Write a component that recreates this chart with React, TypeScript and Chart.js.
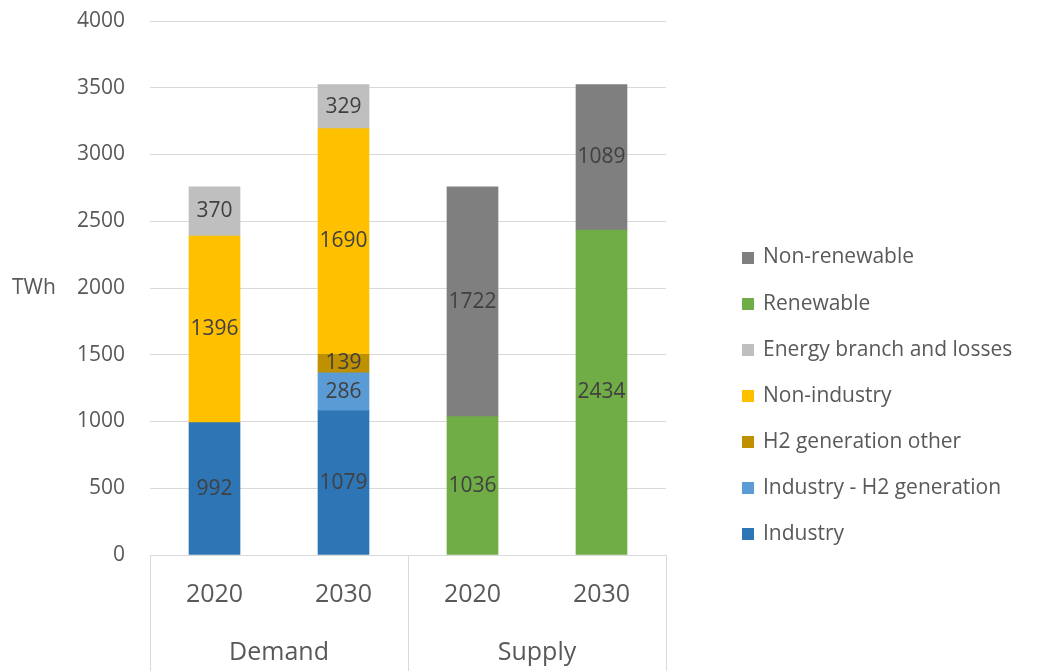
import React, { useEffect, useRef } from "react";
import { Chart, registerables } from "chart.js";

Chart.register(...registerables);

const categories = ["2020", "2030", "2020", "2030"];
const groups = ["Demand", "Supply"];
const yTicks = [0, 500, 1000, 1500, 2000, 2500, 3000, 3500, 4000];
const yTitle = "TWh";

const industry = [992, 1079, null, null];
const industryH2 = [null, 286, null, null];
const h2Other = [null, 139, null, null];
const nonIndustry = [1396, 1690, null, null];
const energyBranch = [370, 329, null, null];
const renewable = [null, null, 1036, 2434];
const nonRenewable = [null, null, 1722, 1089];

const seriesNames = [
  "Industry",
  "Industry - H2 generation",
  "H2 generation other",
  "Non-industry",
  "Energy branch and losses",
  "Renewable",
  "Non-renewable",
];
const seriesColors = ["#2e75b6", "#5b9bd5", "#bf9000", "#ffc000", "#bfbfbf", "#70ad47", "#7f7f7f"];
const seriesValues = [industry, industryH2, h2Other, nonIndustry, energyBranch, renewable, nonRenewable];

const FONT = "'Open Sans', 'Noto Sans', sans-serif";

const valueLabels = {
  id: "valueLabels",
  afterDatasetsDraw(chart: any) {
    const ctx = chart.ctx;
    ctx.save();
    ctx.font = `21px ${FONT}`;
    ctx.fillStyle = "#404040";
    ctx.textAlign = "center";
    ctx.textBaseline = "middle";
    chart.data.datasets.forEach((ds: any, i: number) => {
      const meta = chart.getDatasetMeta(i);
      meta.data.forEach((el: any, j: number) => {
        const v = ds.data[j];
        if (v == null) return;
        const y = (el.y + el.base) / 2;
        ctx.fillText(String(v), el.x, y);
      });
    });
    ctx.restore();
  },
};

const decorations = {
  id: "decorations",
  afterDraw(chart: any) {
    const ctx = chart.ctx;
    const xs = chart.scales.x;
    const area = chart.chartArea;
    const H = chart.height;
    ctx.save();
    ctx.strokeStyle = "#d9d9d9";
    ctx.lineWidth = 1;
    const p0 = xs.getPixelForValue(0);
    const p1 = xs.getPixelForValue(1);
    const p2 = xs.getPixelForValue(2);
    const p3 = xs.getPixelForValue(3);
    const seps = [area.left, (p1 + p2) / 2, area.right];
    seps.forEach((x) => {
      const xx = Math.round(x) + 0.5;
      ctx.beginPath();
      ctx.moveTo(xx, area.bottom);
      ctx.lineTo(xx, H);
      ctx.stroke();
    });
    ctx.font = `25px ${FONT}`;
    ctx.fillStyle = "#595959";
    ctx.textAlign = "center";
    ctx.textBaseline = "middle";
    ctx.fillText(groups[0], (p0 + p1) / 2, 653);
    ctx.fillText(groups[1], (p2 + p3) / 2, 653);
    ctx.font = `21px ${FONT}`;
    ctx.textAlign = "left";
    ctx.fillText(yTitle, 12, 288);
    const n = chart.data.datasets.length;
    for (let k = 0; k < n; k++) {
      const i = n - 1 - k;
      const ds = chart.data.datasets[i];
      const cy = 257.5 + k * 46.1;
      ctx.fillStyle = ds.backgroundColor;
      ctx.fillRect(742, Math.round(cy - 6), 12, 12);
      ctx.fillStyle = "#595959";
      ctx.fillText(ds.label, 763, cy);
    }
    ctx.restore();
  },
};

export default function App() {
  const ref = useRef<HTMLCanvasElement>(null);
  useEffect(() => {
    if (!ref.current) return;
    const chart = new Chart(ref.current, {
      type: "bar",
      data: {
        labels: categories,
        datasets: seriesNames.map((name, i) => ({
          label: name,
          data: seriesValues[i] as any,
          backgroundColor: seriesColors[i],
          borderWidth: 0,
          barThickness: 51,
          stack: "s",
        })),
      },
      options: {
        responsive: false,
        maintainAspectRatio: false,
        animation: false,
        layout: { padding: { left: 0, top: 21, right: 377, bottom: 0 } },
        plugins: {
          legend: { display: false },
          title: { display: false },
          tooltip: { enabled: false },
        },
        scales: {
          x: {
            stacked: true,
            afterFit: (s: any) => {
              s.height = 116;
              s.paddingLeft = 0;
              s.paddingRight = 0;
            },
            grid: { display: false, drawTicks: false },
            border: { display: true, color: "#d9d9d9" },
            ticks: {
              padding: 25,
              color: "#595959",
              font: { family: FONT, size: 25 },
            },
          },
          y: {
            stacked: true,
            min: yTicks[0],
            max: yTicks[yTicks.length - 1],
            afterFit: (s: any) => {
              s.width = 150;
              s.paddingTop = 0;
              s.paddingBottom = 0;
            },
            afterBuildTicks: (s: any) => {
              s.ticks = yTicks.map((v) => ({ value: v }));
            },
            grid: { color: "#d9d9d9", drawTicks: false },
            border: { display: false },
            ticks: {
              padding: 25,
              color: "#595959",
              font: { family: FONT, size: 21 },
              callback: (v: any) => String(v),
            },
          },
        },
      },
      plugins: [valueLabels, decorations],
    });
    return () => chart.destroy();
  }, []);
  return (
    <div style={{ position: "absolute", left: 0, top: 0, width: 1043, height: 671, background: "#fff" }}>
      <canvas ref={ref} width={1043} height={671} style={{ display: "block" }} />
    </div>
  );
}
